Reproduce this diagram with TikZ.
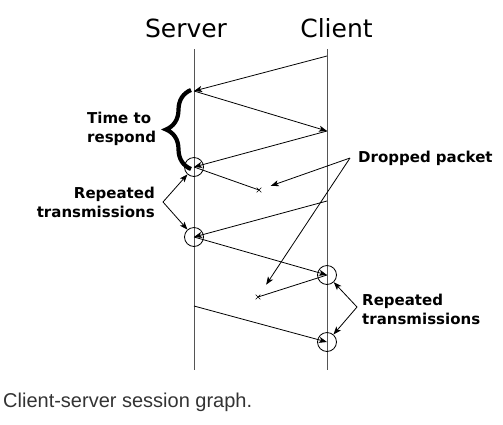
\documentclass[tikz,border=0pt]{standalone}
\usepackage{fontspec}
\setmainfont{DejaVu Sans}
\newfontfamily\captionfont{Liberation Sans}
\usepackage{tikz}
\usetikzlibrary{arrows.meta,shapes.misc,decorations.pathreplacing}
\definecolor{lifegray}{HTML}{555555}
\definecolor{captiongray}{HTML}{333333}

\tikzset{
  msg/.style={-{Stealth[length=8pt,width=6pt,inset=2pt]}, black, line width=0.8pt},
  lost/.style={black, line width=0.8pt},
  pointer/.style={-{Stealth[length=8pt,width=6pt,inset=2pt]}, black, line width=0.8pt},
  lifeline/.style={draw=lifegray, line width=0.9pt},
  ring/.style={circle, draw, black, minimum size=19pt, inner sep=0pt, line width=0.8pt},
  drop/.style={cross out, draw, black, minimum size=4pt, inner sep=0pt, line width=0.6pt},
  note/.style={font=\fontsize{15}{18.5}\selectfont\bfseries, inner sep=0pt},
  title/.style={font=\fontsize{25}{30}\selectfont, inner sep=0pt, anchor=base}
}

\begin{document}
\begin{tikzpicture}[x=1pt, y=-1pt]
\useasboundingbox (0,0) rectangle (503,424);

% lifelines of the two ends
\path
(186,37) node[title](server) {Server}
(336.5,37) node[title](client) {Client};
\coordinate (stop) at (194,49);
\coordinate (sbot) at (194,370);
\coordinate (ctop) at (327,49);
\coordinate (cbot) at (327,370);
\draw[lifeline] (stop) -- (sbot);
\draw[lifeline] (ctop) -- (cbot);

%% events on the lifelines
\coordinate (c1) at (327,56);
\coordinate (s1) at (194,91);
\coordinate (c2) at (327,131);
\coordinate (s2) at (194,167);
\coordinate (c3) at (327,201);
\coordinate (s3) at (194,237);
\coordinate (c4) at (327,275);
\coordinate (s4) at (194,306);
\coordinate (c5) at (327,342);

\node[ring] (ringA) at (s2) {};
\node[ring] (ringB) at (s3) {};
\node[ring] (ringC) at (c4) {};
\node[ring] (ringD) at (c5) {};
\node[drop] (lostA) at (259,190) {};
\node[drop] (lostB) at (258,297) {};

%% messages
\draw[msg] (c1) -- (s1);
\draw[msg] (s1) -- (c2);
\draw[msg] (c2) -- (s2);
\draw[lost] (s2) -- (lostA.center);
\draw[msg] (c3) -- (s3);
\draw[msg] (s3) -- (c4);
\draw[lost] (c4) -- (lostB.center);
\draw[msg] (s4) -- (c5);

%% brace for the time to respond
\draw[decorate, decoration={brace, amplitude=25pt}, line width=4.2pt]
 (191,169) -- (191,90);
\node[note, align=left, anchor=west] (respond) at (87,128.8) {Time to\\respond};

%% labels with pointers
\node[note, align=right, anchor=east] (rptL) at (155,202.5) {Repeated\\transmissions};
\coordinate (vL) at (163,202);
\draw[pointer] (vL) -- (ringA);
\draw[pointer] (vL) -- (ringB);

\node[note, anchor=base west] (dropped) at (358,162) {Dropped packet};
\coordinate (vD) at (350,158);
\draw[pointer, shorten >=10pt] (vD) -- (lostA);
\draw[pointer, shorten >=12pt] (vD) -- (lostB);

\node[note, align=left, anchor=west] (rptR) at (362,309.3) {Repeated\\transmissions};
\coordinate (vR) at (357,307);
\draw[pointer] (vR) -- (ringC);
\draw[pointer] (vR) -- (ringD);

%% caption
\node[anchor=base west, inner sep=0pt, text=captiongray,
 font=\captionfont\fontsize{20}{24}\selectfont] (caption) at (3,407.5) {Client-server session graph.};

\end{tikzpicture}
\end{document}
